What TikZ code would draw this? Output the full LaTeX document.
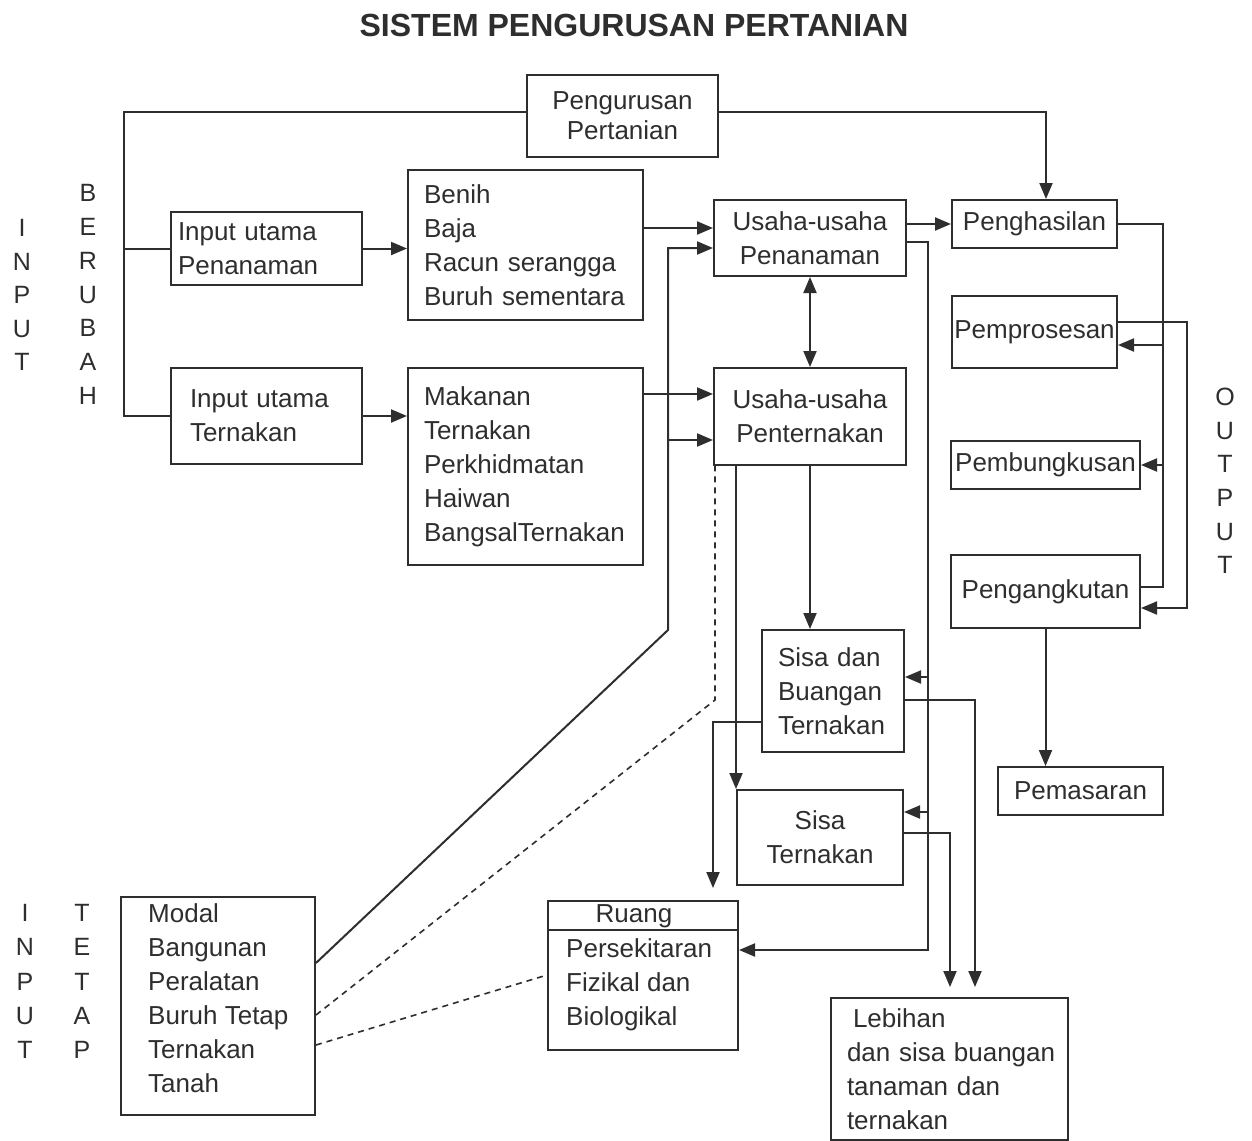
\documentclass[tikz,border=0pt]{standalone}
\usepackage{fontspec}
\setmainfont{Liberation Sans}
\usetikzlibrary{arrows.meta,calc}
\definecolor{ink}{gray}{0.18}
\begin{document}
\begin{tikzpicture}[x=1pt,y=-1pt,
  every node/.style={text=ink},
  lbl/.style={font=\fontsize{26}{34}\selectfont},
  bx/.style={draw=ink, line width=2pt, lbl, inner sep=0pt, align=center},
  conn/.style={draw=ink, line width=2pt},
  arr/.style={conn, -{Triangle[length=16pt,width=13pt]}},
  dbl/.style={conn, {Triangle[length=16pt,width=13pt]}-{Triangle[length=16pt,width=13pt]}},
  dsh/.style={conn, line width=1.6pt, dash pattern=on 6pt off 5pt},
]
\fill[white] (0,0) rectangle (1252,1140);
\useasboundingbox (0,0) rectangle (1252,1140);

% title
\node[font=\fontsize{32}{36}\selectfont\bfseries] (title) at (634,25) {SISTEM PENGURUSAN PERTANIAN};

% side labels
\node[lbl, align=center, font=\fontsize{25}{33.5}\selectfont] (inputA) at (22,295) {I\\N\\P\\U\\T};
\node[lbl, align=center, font=\fontsize{25}{33.8}\selectfont] (berubah) at (88,294.5) {B\\E\\R\\U\\B\\A\\H};
\node[lbl, align=center, font=\fontsize{25}{34.2}\selectfont] (inputB) at (25,981.5) {I\\N\\P\\U\\T};
\node[lbl, align=center, font=\fontsize{25}{34.2}\selectfont] (tetap) at (82,981.5) {T\\E\\T\\A\\P};
\node[lbl, align=center, font=\fontsize{25}{33.6}\selectfont] (output) at (1225,481) {O\\U\\T\\P\\U\\T};

% boxes
\node[bx, minimum width=191pt, minimum height=82pt, font=\fontsize{26}{30}\selectfont] (pengurusan) at (622.5,116) {Pengurusan\\Pertanian};
\node[bx, align=left, inner xsep=7pt, text width=177pt, minimum height=73pt] (inpen) at (266.5,248.5) {\mbox{Input utama}\\Penanaman};
\node[bx, align=left, inner xsep=19pt, text width=153pt, minimum height=96pt] (interak) at (266.5,416) {\mbox{Input utama}\\Ternakan};
\node[bx, align=left, inner xsep=16pt, text width=203pt, minimum height=150pt] (benih) at (525.5,245) {Benih\\Baja\\\mbox{Racun serangga}\\\mbox{Buruh sementara}};
\node[bx, align=left, inner xsep=16pt, text width=203pt, minimum height=197pt] (makanan) at (525.5,466.5) {Makanan\\Ternakan\\Perkhidmatan\\Haiwan\\\mbox{BangsalTernakan}};
\node[bx, minimum width=192pt, minimum height=76pt] (usahapen) at (810,238) {Usaha-usaha\\Penanaman};
\node[bx, minimum width=192pt, minimum height=97pt] (usahater) at (810,416.5) {Usaha-usaha\\Penternakan};
\node[bx, minimum width=165pt, minimum height=48pt] (penghasilan) at (1034.5,224) {Penghasilan};
\node[bx, minimum width=165pt, minimum height=72pt] (pemproses) at (1034.5,332) {Pemprosesan};
\node[bx, minimum width=189pt, minimum height=48pt] (pembungkus) at (1045.5,465) {Pembungkusan};
\node[bx, minimum width=189pt, minimum height=73pt] (pengangkutan) at (1045.5,591.5) {Pengangkutan};
\node[bx, minimum width=165pt, minimum height=48pt] (pemasaran) at (1080.5,791) {Pemasaran};
\node[bx, align=left, inner xsep=16pt, text width=110pt, minimum height=122pt] (sisadan) at (833,691) {\mbox{Sisa dan}\\Buangan\\Ternakan};
\node[bx, minimum width=166pt, minimum height=95pt] (sisater) at (820,837.5) {Sisa\\Ternakan};
\node[bx, minimum width=190pt, minimum height=149pt] (ruang) at (643,975.5) {};
\node[lbl] (ruanghd) at (634,916) {Ruang};
\node[lbl, align=left, anchor=west, inner sep=0pt] (ruangtx) at (566,985) {Persekitaran\\Fizikal dan\\Biologikal};
\node[bx, minimum width=194pt, minimum height=218pt] (modal) at (218,1006) {};
\node[lbl, align=left, anchor=north west, inner sep=0pt] (modaltx) at (148,903) {Modal\\Bangunan\\Peralatan\\Buruh Tetap\\Ternakan\\Tanah};
\node[bx, align=left, inner xsep=16pt, text width=205pt, minimum height=142pt] (lebihan) at (949.5,1069) {\hspace*{6pt}Lebihan\\\mbox{dan sisa buangan}\\\mbox{tanaman dan}\\ternakan};

% Ruang divider
\draw[conn] (ruang.west |- 0,930) -- (ruang.east |- 0,930);

% management lines
\coordinate (lcol) at (124,112);
\draw[conn] (pengurusan.west |- lcol) -- (lcol) |- (interak.west);
\draw[conn] (lcol |- inpen.west) -- (inpen.west);
\draw[arr] (pengurusan.east |- lcol) -| ([xshift=11.5pt]penghasilan.north);

% inputs
\draw[arr] (inpen.east) -- (inpen.east -| benih.west);
\draw[arr] (interak.east) -- (interak.east -| makanan.west);
\draw[arr] (benih.east |- 0,228) -- (usahapen.west |- 0,228);
\draw[arr] (makanan.east |- 0,394) -- (usahater.west |- 0,394);
\draw[arr] (usahapen.east |- penghasilan.west) -- (penghasilan.west);
\draw[dbl] (usahapen.south) -- (usahater.north);

% fixed inputs
\coordinate (sj) at (668,630);
\draw[arr] (modal.east |- 0,963) -- (sj) |- (usahapen.west |- 0,248);
\draw[arr] (sj |- 0,440) -- (usahater.west |- 0,440);
\coordinate (dj) at (715,700);
\draw[dsh] (modal.east |- 0,1015) -- (dj) -- (dj |- usahater.south);
\draw[dsh] (modal.east |- 0,1045) -- (ruang.west |- 0,975);

% livestock outputs
\draw[arr] (usahater.south) -- (usahater.south |- sisadan.north);
\draw[arr] (sisater.north west |- usahater.south) -- (sisater.north west);

\coordinate (rc) at (928,242);
\draw[arr] (usahapen.east |- rc) -- (rc) |- (ruang.east |- 0,950);
\draw[arr] (rc |- 0,677) -- (sisadan.east |- 0,677);
\draw[arr] (rc |- 0,812) -- (sisater.east |- 0,812);

\coordinate (l1) at (950,988);
\coordinate (l2) at (975,988);
\draw[arr, shorten >=10pt] (sisadan.east |- 0,700) -| (lebihan.north -| l2);
\draw[arr, shorten >=10pt] (sisater.east |- 0,833) -| (lebihan.north -| l1);
\coordinate (rt) at (713,722);
\draw[arr, shorten >=12pt] (sisadan.west |- rt) -- (rt) -- (rt |- ruang.north);

% output chain
\coordinate (oc) at (1163,224);
\draw[conn] (penghasilan.east) -- (oc) |- (pengangkutan.east |- 0,587);
\draw[arr] (oc |- 0,345) -- (pemproses.east |- 0,345);
\draw[arr] (oc |- pembungkus.east) -- (pembungkus.east);
\coordinate (oc2) at (1187,322);
\draw[arr] (pemproses.east |- oc2) -- (oc2) |- (pengangkutan.east |- 0,608);
\draw[arr] (pengangkutan.south) -- (pengangkutan.south |- pemasaran.north);
\end{tikzpicture}
\end{document}
